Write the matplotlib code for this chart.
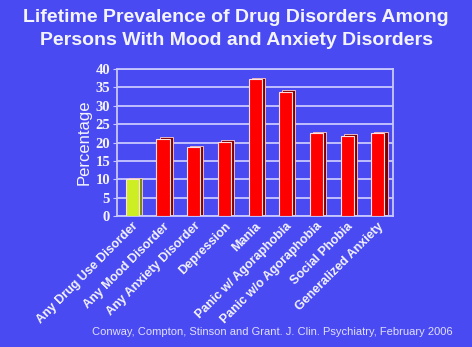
import numpy as np
import matplotlib.pyplot as plt

# data
categories = ["Any Drug Use Disorder", "Any Mood Disorder", "Any Anxiety Disorder",
              "Depression", "Mania", "Panic w/ Agoraphobia", "Panic w/o Agoraphobia",
              "Social Phobia", "Generalized Anxiety"]
values = [10.1, 21.0, 18.7, 20.3, 37.2, 33.8, 22.6, 21.9, 22.5]
face_colors = ["#ccee22"] + ["#ff0000"] * 8
side_colors = ["#7a8a10"] + ["#800000"] * 8
yticks = list(range(0, 45, 5))

BG = "#4a4af2"
GRID = "#c8c8ff"
WHITE = "#f4f4ff"

fig = plt.figure(figsize=(4.72, 3.47), dpi=100, facecolor=BG)
ax = fig.add_axes([0.248, 0.377, 0.585, 0.424], facecolor=BG)

x = np.arange(len(categories))
w = 0.43
# fake 3d depth: darker copy slightly behind and to the right
ax.bar(x + 0.1, values, width=w, bottom=0.4, color=side_colors,
       edgecolor="#ffd0d0", linewidth=0.6, zorder=2)
ax.bar(x, values, width=w, color=face_colors, edgecolor="#ffe0e0",
       linewidth=0.8, zorder=3)

ax.set_xlim(-0.5, len(categories) - 0.5)
ax.set_ylim(0, 40)
ax.set_yticks(yticks)
ax.yaxis.grid(True, color=GRID, linewidth=1.3, zorder=1)
ax.set_axisbelow(True)
for s in ax.spines.values():
    s.set_color(GRID)
    s.set_linewidth(1.3)

ax.tick_params(axis="y", colors=GRID, length=3, pad=2)
for lab in ax.get_yticklabels():
    lab.set_color(WHITE)
    lab.set_fontfamily("Liberation Serif")
    lab.set_fontweight("bold")
    lab.set_fontsize(10.5)

ax.set_xticks(x)
ax.set_xticklabels(categories, rotation=45, ha="right", rotation_mode="anchor",
                   color=WHITE, fontsize=9, fontweight="bold",
                   fontfamily="Liberation Sans")
ax.tick_params(axis="x", length=0, pad=3)

ax.set_ylabel("Percentage", color=WHITE, fontsize=12,
              fontfamily="Liberation Sans", labelpad=3)

fig.text(0.5, 0.975, "Lifetime Prevalence of Drug Disorders Among\n"
         "Persons With Mood and Anxiety Disorders",
         ha="center", va="top", color=WHITE, fontsize=14, fontweight="bold",
         fontfamily="Liberation Sans", linespacing=1.5)

fig.text(0.576, 0.03, "Conway, Compton, Stinson and Grant. J. Clin. Psychiatry, February 2006",
         ha="center", va="bottom", color="#e0e0ff", fontsize=8,
         fontfamily="Liberation Sans")

fig.savefig("out.png", dpi=100, facecolor=BG)
